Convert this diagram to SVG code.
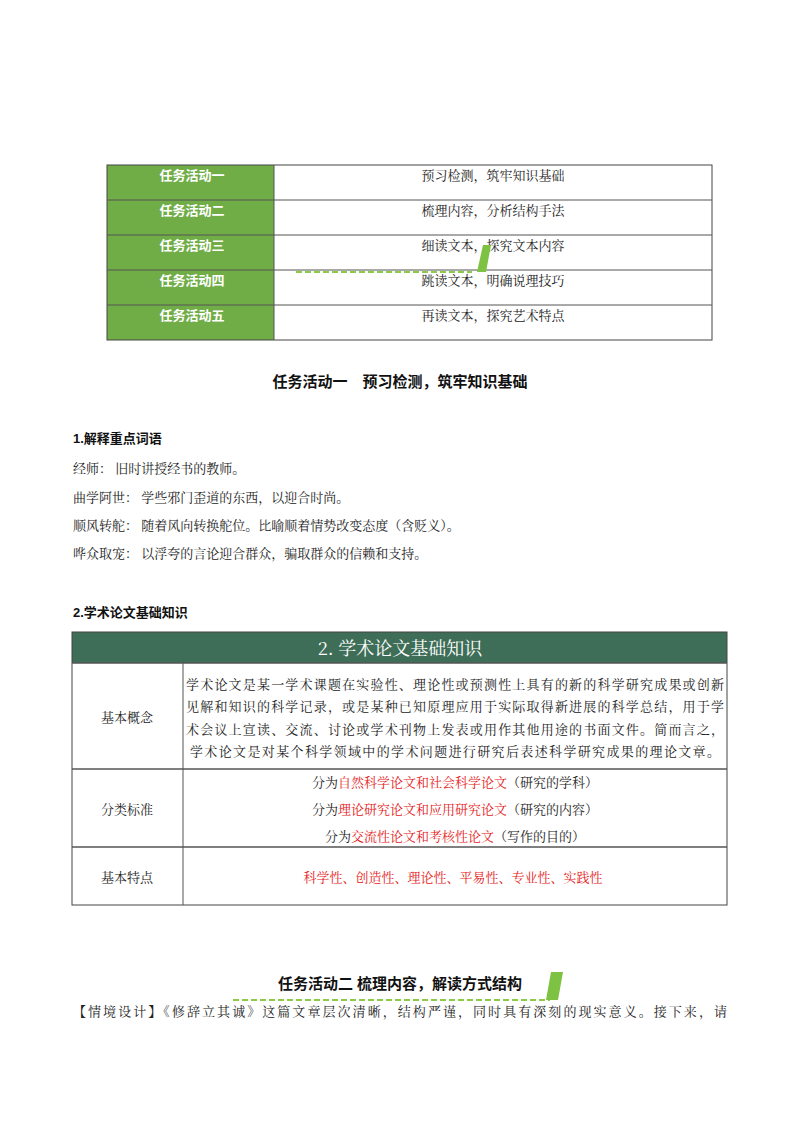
<svg xmlns="http://www.w3.org/2000/svg" width="800" height="1132" viewBox="0 0 800 1132">
<style>
.s{font-family:"Noto Serif CJK SC","Noto Sans CJK SC",serif;font-size:13px;fill:#222}
.b{font-family:"Liberation Sans","Noto Sans CJK SC",sans-serif;font-weight:bold;fill:#111}
.w{font-family:"Liberation Sans","Noto Sans CJK SC",sans-serif;font-weight:bold;font-size:13px;fill:#fff}
.r{fill:#e52222}
.ln{stroke:#555;stroke-width:1}
</style>
<rect width="800" height="1132" fill="#fff"/>
<g id="table1">
<rect x="107" y="165" width="167" height="175" fill="#70AD47"/>
<rect x="107" y="165" width="605" height="175" fill="none" stroke="#444"/>
<g class="ln"><line x1="107" y1="200" x2="712" y2="200"/><line x1="107" y1="235" x2="712" y2="235"/><line x1="107" y1="270" x2="712" y2="270"/><line x1="107" y1="305" x2="712" y2="305"/><line x1="274" y1="165" x2="274" y2="340"/></g>
<text class="w" x="192" y="180" text-anchor="middle">任务活动一</text>
<text class="w" x="192" y="215" text-anchor="middle">任务活动二</text>
<text class="w" x="192" y="250" text-anchor="middle">任务活动三</text>
<text class="w" x="192" y="285" text-anchor="middle">任务活动四</text>
<text class="w" x="192" y="320" text-anchor="middle">任务活动五</text>
<text class="s" x="493" y="180" text-anchor="middle">预习检测，筑牢知识基础</text>
<text class="s" x="493" y="215" text-anchor="middle">梳理内容，分析结构手法</text>
<text class="s" x="493" y="250" text-anchor="middle">细读文本，探究文本内容</text>
<text class="s" x="493" y="285" text-anchor="middle">跳读文本，明确说理技巧</text>
<text class="s" x="493" y="320" text-anchor="middle">再读文本，探究艺术特点</text>
<line x1="296" y1="272" x2="472" y2="272" stroke="#8CCB4A" stroke-width="2" stroke-dasharray="6,3"/>
<polygon points="477,272 483,245 491,245 486,272" fill="#7DC242"/>
</g>
<text class="b" x="400" y="387" text-anchor="middle" font-size="15">任务活动一　预习检测，筑牢知识基础</text>
<text class="b" x="73" y="443" font-size="13">1.解释重点词语</text>
<text class="s" x="73" y="473">经师： 旧时讲授经书的教师。</text>
<text class="s" x="73" y="502">曲学阿世： 学些邪门歪道的东西，以迎合时尚。</text>
<text class="s" x="73" y="530">顺风转舵： 随着风向转换舵位。比喻顺着情势改变态度（含贬义）。</text>
<text class="s" x="73" y="558">哗众取宠： 以浮夸的言论迎合群众，骗取群众的信赖和支持。</text>
<text class="b" x="73" y="617" font-size="13">2.学术论文基础知识</text>
<g id="table2">
<rect x="72" y="632" width="655" height="31" fill="#3E6E57"/>
<text x="400" y="655" text-anchor="middle" font-family="Noto Serif CJK SC,Noto Sans CJK SC,serif" font-size="18" fill="#fff">2. 学术论文基础知识</text>
<rect x="72" y="632" width="655" height="273" fill="none" stroke="#444"/>
<g class="ln"><line x1="72" y1="663" x2="727" y2="663" stroke-width="1.5"/><line x1="72" y1="769" x2="727" y2="769" stroke-width="1.5"/><line x1="72" y1="847" x2="727" y2="847" stroke-width="1.5"/><line x1="183" y1="663" x2="183" y2="905"/></g>
<text class="s" x="127" y="722" text-anchor="middle" font-size="15">基本概念</text>
<text class="s" x="127" y="814" text-anchor="middle" font-size="15">分类标准</text>
<text class="s" x="127" y="882" text-anchor="middle" font-size="15">基本特点</text>
<text class="s" x="186" y="689" textLength="538">学术论文是某一学术课题在实验性、理论性或预测性上具有的新的科学研究成果或创新</text>
<text class="s" x="186" y="711" textLength="538">见解和知识的科学记录，或是某种已知原理应用于实际取得新进展的科学总结，用于学</text>
<text class="s" x="186" y="734" textLength="538">术会议上宣读、交流、讨论或学术刊物上发表或用作其他用途的书面文件。简而言之，</text>
<text class="s" x="190" y="756" textLength="530">学术论文是对某个科学领域中的学术问题进行研究后表述科学研究成果的理论文章。</text>
<text class="s" x="455" y="787" text-anchor="middle">分为<tspan class="r">自然科学论文和社会科学论文</tspan>（研究的学科）</text>
<text class="s" x="455" y="814" text-anchor="middle">分为<tspan class="r">理论研究论文和应用研究论文</tspan>（研究的内容）</text>
<text class="s" x="455" y="841" text-anchor="middle">分为<tspan class="r">交流性论文和考核性论文</tspan>（写作的目的）</text>
<text class="s r" x="453" y="882" text-anchor="middle">科学性、创造性、理论性、平易性、专业性、实践性</text>
</g>
<text class="b" x="400" y="989" text-anchor="middle" font-size="15">任务活动二 梳理内容，解读方式结构</text>
<line x1="233" y1="1000" x2="550" y2="1000" stroke="#8CCB4A" stroke-width="2" stroke-dasharray="6,3"/>
<polygon points="546,1000 551,972 563,972 558,1000" fill="#7DC242"/>
<text class="s" x="73" y="1016" textLength="654">【情境设计】《修辞立其诚》这篇文章层次清晰，结构严谨，同时具有深刻的现实意义。接下来，请</text>
</svg>
